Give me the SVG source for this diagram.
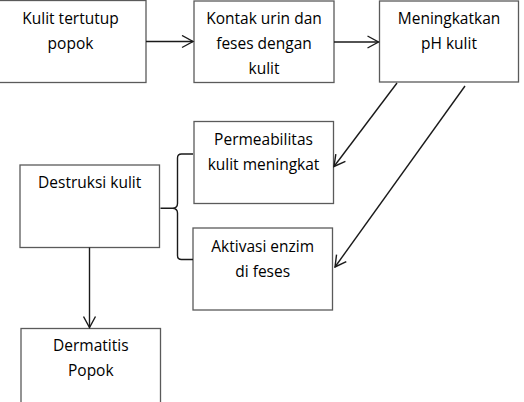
<svg xmlns="http://www.w3.org/2000/svg" width="524" height="402" viewBox="0 0 524 402">
<style>
.box{fill:#fff;stroke:#5a5a5a;stroke-width:1.3}
.t{font-family:"Open Sans","Liberation Sans",sans-serif;font-size:15.5px;fill:#000;text-anchor:middle}
.c{fill:none;stroke:#1a1a1a;stroke-width:1.4}
</style>
<defs>
<marker id="ah" markerUnits="userSpaceOnUse" markerWidth="14" markerHeight="14" viewBox="0 0 14 14" refX="12.5" refY="7" orient="auto">
<path d="M1.5,1 L12.5,7 L1.5,13" fill="none" stroke="#1a1a1a" stroke-width="1.4"/>
</marker>
</defs>
<rect width="524" height="402" fill="#fff"/>
<g id="n1"><rect class="box" x="-5" y="0.5" width="151" height="82"/><text class="t" x="70.5" y="23.5">Kulit tertutup</text><text class="t" x="70.5" y="48.5">popok</text></g>
<g id="n2"><rect class="box" x="194" y="1" width="140" height="81.5"/><text class="t" x="264" y="23.5">Kontak urin dan</text><text class="t" x="264" y="48.5">feses dengan</text><text class="t" x="264" y="73.5">kulit</text></g>
<g id="n3"><rect class="box" x="379.5" y="1" width="139" height="81"/><text class="t" x="449" y="23.5">Meningkatkan</text><text class="t" x="449" y="48.5">pH kulit</text></g>
<g id="n4"><rect class="box" x="194" y="121.5" width="139.5" height="82"/><text class="t" x="263.5" y="144.5">Permeabilitas</text><text class="t" x="263.5" y="169.5">kulit meningkat</text></g>
<g id="n5"><rect class="box" x="193" y="228" width="139.5" height="82"/><text class="t" x="262.7" y="252">Aktivasi enzim</text><text class="t" x="262.7" y="277">di feses</text></g>
<g id="n6"><rect class="box" x="20" y="165" width="139.5" height="82.5"/><text class="t" x="89.7" y="187.5">Destruksi kulit</text></g>
<g id="n7"><rect class="box" x="21" y="328.5" width="139.5" height="82"/><text class="t" x="90.8" y="351">Dermatitis</text><text class="t" x="90.8" y="376">Popok</text></g>
<g id="connectors">
<line class="c" x1="146" y1="41.5" x2="193" y2="41.5" marker-end="url(#ah)"/>
<line class="c" x1="334" y1="42" x2="378.5" y2="42" marker-end="url(#ah)"/>
<line class="c" x1="397" y1="83" x2="334" y2="166.5" marker-end="url(#ah)"/>
<line class="c" x1="465" y1="86" x2="335" y2="267" marker-end="url(#ah)"/>
<line class="c" x1="89.5" y1="247.5" x2="89.5" y2="327.5" marker-end="url(#ah)"/>
<path class="c" d="M193,154 H181.5 Q177.5,154 177.5,158 V203.5 Q177.5,208 172.5,208.3 H160.5 M172.5,208.3 Q177.5,208.6 177.5,213 V255.5 Q177.5,259.5 181.5,259.5 H193"/>
</g>
</svg>
